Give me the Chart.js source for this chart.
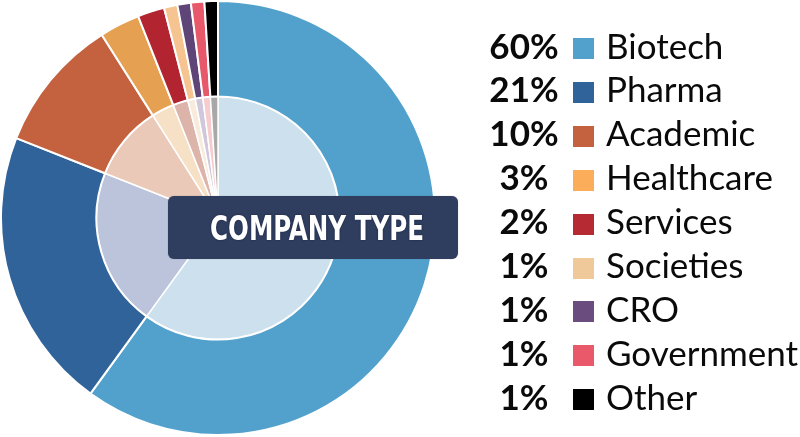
<!DOCTYPE html>
<html>
<head>
<meta charset="utf-8">
<script src="https://cdn.jsdelivr.net/npm/chart.js@4"></script>
<style>
  html, body { margin:0; padding:0; background:#fff; width:800px; height:437px; overflow:hidden; }
  #wrap { position:absolute; left:0; top:0; width:436px; height:436px; }
  #badge { position:absolute; left:168px; top:196px; width:290px; height:63px; background:#2f3d5e; border-radius:6px; box-shadow:0 0 1px rgba(0,0,0,0.4); }
  #badge span { position:absolute; left:42px; top:7px; font-family:"DejaVu Sans Condensed","DejaVu Sans",sans-serif; font-weight:bold; font-size:34px; line-height:50px; color:#fff; white-space:nowrap; transform-origin:0 50%; text-shadow:0 0 2px rgba(20,30,60,0.9); }
  .row { position:absolute; left:0; height:44px; width:800px; font-family:Lato,sans-serif; font-size:35px; line-height:44px; color:#0a0a0a; }
  .pct { position:absolute; left:479px; width:90px; text-align:center; font-weight:bold; top:-4px; }
  .sw { position:absolute; left:573px; top:11.5px; width:21px; height:21px; }
  .lab { position:absolute; left:606px; top:-4px; white-space:nowrap; }
</style>
</head>
<body>
<div id="wrap"><canvas id="c" width="436" height="436"></canvas></div>
<div id="badge"><span id="btxt">COMPANY TYPE</span></div>
<div id="legend"></div>
<script>
const categories = ["Biotech","Pharma","Academic","Healthcare","Services","Societies","CRO","Government","Other"];
const values = [60,21,10,3,2,1,1,1,1];
const pctLabels = ["60%","21%","10%","3%","2%","1%","1%","1%","1%"];
const outerColors = ["#52a1cc","#2f6399","#c4623f","#e6a052","#b2242f","#f5c490","#5f4477","#e7596a","#000000"];
const innerColors = ["#cde0ee","#bcc4dc","#eac9b8","#f7e1c6","#dcb4aa","#f9ebdc","#d0c8da","#f7cccf","#a8a8a8"];
const legendColors = ["#52a1cc","#2f6399","#c4623f","#fbad5a","#b52a33","#f0c99a","#6b4c7e","#e9596a","#000000"];

new Chart(document.getElementById('c'), {
  type: 'pie',
  data: {
    labels: categories,
    datasets: [
      { data: values, backgroundColor: outerColors, borderColor: '#ffffff', borderWidth: 2, weight: 95 },
      { data: values, backgroundColor: innerColors, borderColor: '#ffffff', borderWidth: 1.5, weight: 121 }
    ]
  },
  options: {
    responsive: false,
    animation: false,
    layout: { padding: 0 },
    plugins: { legend: { display: false }, tooltip: { enabled: false } }
  }
});

const bt = document.getElementById('btxt');
const w = bt.getBoundingClientRect().width;
bt.style.transform = 'scaleX(' + (214 / w) + ')';

const leg = document.getElementById('legend');
categories.forEach((c, i) => {
  const cy = 48.5 + 43.9 * i;
  const r = document.createElement('div');
  r.className = 'row';
  r.style.top = (cy - 22) + 'px';
  r.innerHTML = '<span class="pct">' + pctLabels[i] + '</span><span class="sw" style="background:' + legendColors[i] + '"></span><span class="lab">' + c + '</span>';
  leg.appendChild(r);
});
</script>
</body>
</html>
